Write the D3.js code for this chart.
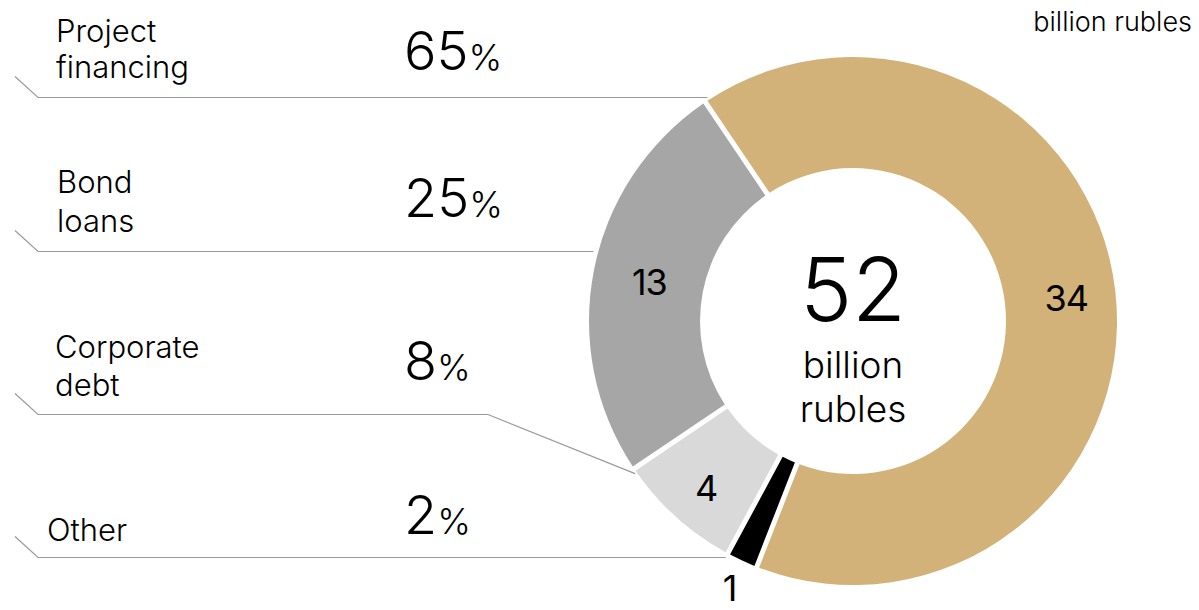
<!DOCTYPE html>
<html>
<head>
<meta charset="utf-8">
<script src="https://cdn.jsdelivr.net/npm/d3@7"></script>
<style>
  html, body { margin: 0; padding: 0; background: #fff; }
  svg { display: block; font-family: Inter, Lato, "Noto Sans", sans-serif; font-weight: 340; }
</style>
</head>
<body>
<svg id="chart" width="1199" height="610"></svg>
<script>
// Funding sources, billion rubles
const categories = ["Project financing", "Bond loans", "Corporate debt", "Other"];
const labelLines = [["Project", "financing"], ["Bond", "loans"], ["Corporate", "debt"], ["Other"]];
const values = [34, 13, 4, 1];
const shares = [65, 25, 8, 2];
const colors = ["#D2B278", "#A6A6A6", "#D9D9D9", "#000000"];
// clockwise order of the ring, starting at the upper left
const ringOrder = [0, 3, 2, 1];
const unitText = "billion rubles";
const centerUnit = ["billion", "rubles"];

const svg = d3.select("#chart");
const cx = 853, cy = 321;
const rOuter = 264, rInner = 153;
const deg = Math.PI / 180;
const startAngle = -34 * deg;

const items = ringOrder.map(i => ({
  i, name: categories[i], value: values[i], color: colors[i]
}));

const pie = d3.pie()
  .sort(null)
  .value(d => d.value)
  .startAngle(startAngle)
  .endAngle(startAngle + 2 * Math.PI);

const arc = d3.arc()
  .innerRadius(rInner)
  .outerRadius(rOuter)
  .padRadius(rOuter)
  .padAngle(5 / rOuter);

const arcs = pie(items);
const byIndex = {};
arcs.forEach(a => { byIndex[a.data.i] = a; });

const g = svg.append("g").attr("transform", `translate(${cx},${cy})`);

g.selectAll("path.slice")
  .data(arcs)
  .join("path")
  .attr("class", "slice")
  .attr("d", arc)
  .attr("fill", d => d.data.color);

// values inside the ring
const labelArc = d3.arc().innerRadius(rInner).outerRadius(rOuter);
const valueOffset = { 0: [6, 0], 1: [1, 1], 2: [-7, 12] };
arcs.forEach(a => {
  const i = a.data.i;
  let x, y;
  if (i === 3) {
    // the thin slice gets its value outside the ring
    const mid = (a.startAngle + a.endAngle) / 2;
    const r = rOuter + 30;
    x = r * Math.sin(mid);
    y = -r * Math.cos(mid);
  } else {
    [x, y] = labelArc.centroid(a);
    x += valueOffset[i][0];
    y += valueOffset[i][1];
  }
  g.append("text")
    .attr("x", x)
    .attr("y", y)
    .attr("text-anchor", "middle")
    .attr("dominant-baseline", "central")
    .attr("font-size", 36)
    .attr("font-weight", 380)
    .attr("letter-spacing", -1)
    .attr("fill", "#000")
    .text(a.data.value);
});

// total in the centre
const total = d3.sum(values);
g.append("text")
  .attr("x", 0).attr("y", 0)
  .attr("text-anchor", "middle")
  .attr("font-size", 88)
  .attr("font-weight", 300)
  .attr("fill", "#000")
  .text(total);
centerUnit.forEach((t, k) => {
  g.append("text")
    .attr("x", 0).attr("y", 57 + k * 44)
    .attr("text-anchor", "middle")
    .attr("font-size", 37)
    .attr("fill", "#000")
    .text(t);
});

// unit note, top right
svg.append("text")
  .attr("x", 1192).attr("y", 31)
  .attr("text-anchor", "end")
  .attr("font-size", 27)
  .attr("fill", "#000")
  .text(unitText);

// legend rows with leader lines
const rowY = [97.5, 251.5, 414.5, 557.5];
const labelX = [56, 57, 55, 47];
const firstBaseline = [-55.5, -58.5, -57, -17];
const lineGap = [36, 39, 38, 0];
const pctBaseline = [-28, -35, -35, -24];
const pctX = 404;
const lineColor = "#9a9a9a";

function ringX(y, gap) {
  const dy = y - cy;
  return cx - Math.sqrt(rOuter * rOuter - dy * dy) - gap;
}

categories.forEach((name, i) => {
  const y = rowY[i];
  const pts = [[15, y - 21], [38, y]];
  if (i === 2) {
    // points up into the light-grey slice
    const a = byIndex[i];
    const ang = a.endAngle - 1 * deg;
    pts.push([488, y]);
    pts.push([cx + (rOuter + 2) * Math.sin(ang), cy - (rOuter + 2) * Math.cos(ang)]);
  } else {
    pts.push([ringX(y, i === 3 ? 10 : 5), y]);
  }
  svg.append("path")
    .attr("d", d3.line()(pts))
    .attr("fill", "none")
    .attr("stroke", lineColor)
    .attr("stroke-width", 1.2);

  labelLines[i].forEach((t, k) => {
    svg.append("text")
      .attr("x", labelX[i])
      .attr("y", y + firstBaseline[i] + k * lineGap[i])
      .attr("font-size", 31)
      .attr("fill", "#000")
      .text(t);
  });

  const pt = svg.append("text")
    .attr("x", pctX)
    .attr("y", y + pctBaseline[i])
    .attr("font-weight", 300)
    .attr("fill", "#000");
  pt.append("tspan").attr("font-size", 54).text(shares[i]);
  pt.append("tspan").attr("font-size", 36).text("%");
});
</script>
</body>
</html>
